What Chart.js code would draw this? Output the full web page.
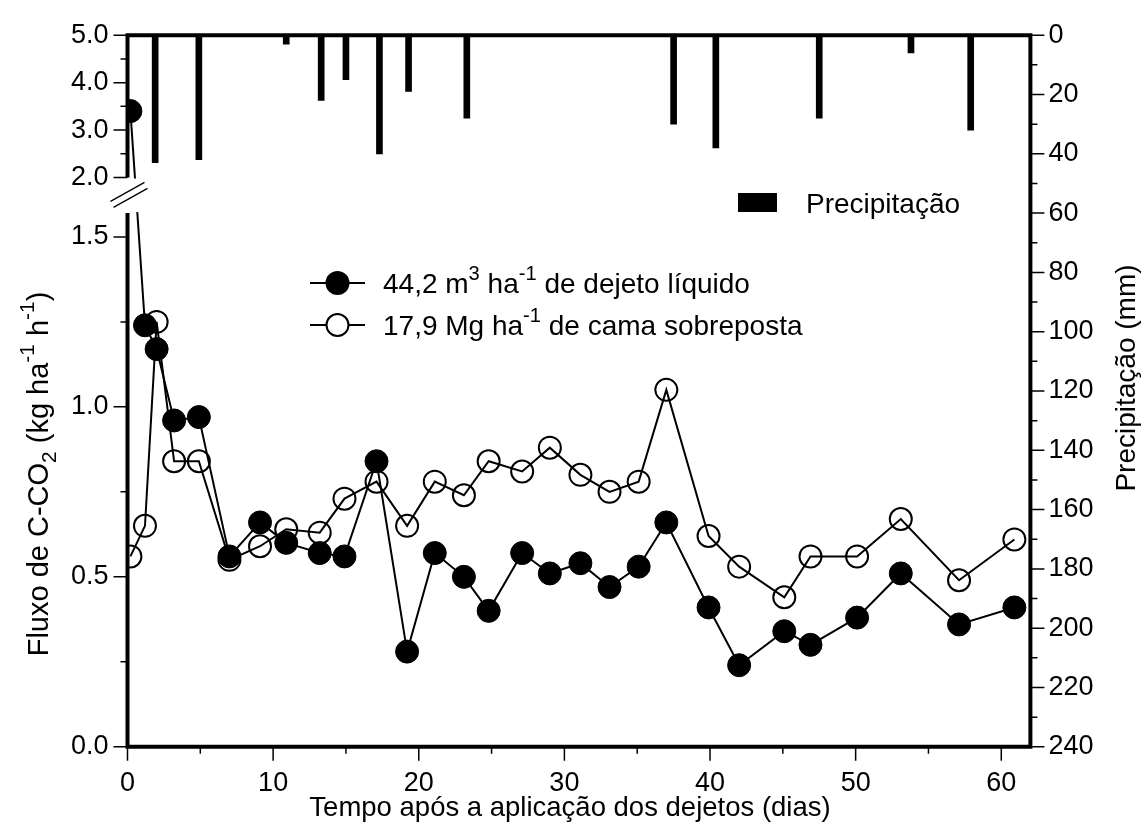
<!DOCTYPE html>
<html>
<head>
<meta charset="utf-8">
<script src="https://cdn.jsdelivr.net/npm/chart.js@4.4.1/dist/chart.umd.min.js"></script>
<style>
  html, body { margin: 0; padding: 0; background: #fff; }
  #wrap { position: relative; width: 1146px; height: 823px; }
</style>
</head>
<body>
<div id="wrap"><canvas id="fluxo"></canvas></div>
<script>
// dias após a aplicação (mesmas datas para os dois tratamentos)
const dias = [0.2, 1.2, 2.0, 3.2, 4.9, 7.0, 9.1, 10.9, 13.2, 14.9, 17.1, 19.2, 21.1, 23.1, 24.8,
              27.1, 29.0, 31.1, 33.1, 35.1, 37.0, 39.9, 42.0, 45.1, 46.9, 50.1, 53.1, 57.1, 60.9];
// fluxo de C-CO2 (kg ha-1 h-1)
const dejetoLiquido = [3.40, 1.24, 1.17, 0.96, 0.97, 0.56, 0.66, 0.60, 0.57, 0.56, 0.84, 0.28, 0.57, 0.50, 0.40,
                       0.57, 0.51, 0.54, 0.47, 0.53, 0.66, 0.41, 0.24, 0.34, 0.30, 0.38, 0.51, 0.36, 0.41];
const camaSobreposta = [0.56, 0.65, 1.25, 0.84, 0.84, 0.55, 0.59, 0.64, 0.63, 0.73, 0.78, 0.65, 0.78, 0.74, 0.84,
                        0.81, 0.88, 0.80, 0.75, 0.78, 1.05, 0.62, 0.53, 0.44, 0.56, 0.56, 0.67, 0.49, 0.61];
// chuva (mm)
const chuvaDias = [1.9, 4.9, 10.9, 13.3, 15.0, 17.3, 19.3, 23.3, 37.5, 40.4, 47.5, 53.8, 57.9];
const chuvaMm   = [43, 42, 3, 22, 15, 40, 19, 28, 30, 38, 28, 6, 32];

// ticks
const fluxoTicks = [0, 0.5, 1.0, 1.5, 2.0, 3.0, 4.0, 5.0];
const fluxoMenores = [0.25, 0.75, 1.25, 2.5, 3.5, 4.5];
const diasTicks = [0, 10, 20, 30, 40, 50, 60];
const diasMenores = [5, 15, 25, 35, 45, 55];
const chuvaTicks = [0, 20, 40, 60, 80, 100, 120, 140, 160, 180, 200, 220, 240];
const chuvaMenores = [10, 30, 50, 70, 90, 110, 130, 150, 170, 190, 210, 230];

// eixo y quebrado: 0–1.57 embaixo, 2–5 em cima
const BAIXO_MAX = 1.57, CIMA_MIN = 2.0, CIMA_MAX = 5.0;
const FRAC_CIMA = 0.20, FRAC_VAO = 0.05;

const FONTE = '"Liberation Sans", Arial, sans-serif';
const fonte = s => s + 'px ' + FONTE;

class EixoQuebrado extends Chart.LinearScale {
  limites() {
    const h = this.bottom - this.top;
    const yCima = this.top + h * FRAC_CIMA;
    const yBaixo = yCima + h * FRAC_VAO;
    return { yCima, yBaixo };
  }
  getPixelForValue(v) {
    const { yCima, yBaixo } = this.limites();
    if (v <= BAIXO_MAX) return this.bottom - (v / BAIXO_MAX) * (this.bottom - yBaixo);
    if (v < CIMA_MIN) return yBaixo - (v - BAIXO_MAX) / (CIMA_MIN - BAIXO_MAX) * (yBaixo - yCima);
    return yCima - (v - CIMA_MIN) / (CIMA_MAX - CIMA_MIN) * (yCima - this.top);
  }
  getValueForPixel(p) {
    const { yCima, yBaixo } = this.limites();
    if (p >= yBaixo) return (this.bottom - p) / (this.bottom - yBaixo) * BAIXO_MAX;
    if (p > yCima) return BAIXO_MAX + (yBaixo - p) / (yBaixo - yCima) * (CIMA_MIN - BAIXO_MAX);
    return CIMA_MIN + (yCima - p) / (yCima - this.top) * (CIMA_MAX - CIMA_MIN);
  }
}
EixoQuebrado.id = 'quebrado';
EixoQuebrado.defaults = Chart.LinearScale.defaults;
Chart.register(EixoQuebrado);

// texto com sobrescrito/subscrito
function textoRico(ctx, partes, x, y, tam, centro) {
  const peq = tam * 0.72;
  let total = 0;
  for (const [t, k] of partes) { ctx.font = fonte(k ? peq : tam); total += ctx.measureText(t).width; }
  let cx = centro ? x - total / 2 : x;
  ctx.textAlign = 'left';
  ctx.textBaseline = 'alphabetic';
  for (const [t, k] of partes) {
    ctx.font = fonte(k ? peq : tam);
    const dy = k === 'sup' ? -tam * 0.48 : k === 'sub' ? tam * 0.28 : 0;
    ctx.fillText(t, cx, y + dy);
    cx += ctx.measureText(t).width;
  }
}

const moldura = {
  id: 'moldura',
  afterDatasetsDraw(chart) {
    const { ctx, chartArea: a, scales } = chart;
    const y = scales.y, y2 = scales.y2, x = scales.x;
    const pCima = y.getPixelForValue(CIMA_MIN);
    const pBaixo = y.getPixelForValue(BAIXO_MAX);
    ctx.save();
    // vão entre os painéis
    ctx.fillStyle = '#fff';
    ctx.fillRect(a.left + 2, pCima + 1, a.right - a.left - 4, pBaixo - pCima - 2);

    ctx.strokeStyle = '#000';
    ctx.lineWidth = 4;
    ctx.lineJoin = 'miter';
    ctx.beginPath();
    ctx.moveTo(a.left, pCima);
    ctx.lineTo(a.left, a.top);
    ctx.lineTo(a.right, a.top);
    ctx.lineTo(a.right, a.bottom);
    ctx.lineTo(a.left, a.bottom);
    ctx.lineTo(a.left, pBaixo);
    ctx.stroke();

    ctx.lineWidth = 1.5;
    ctx.beginPath();
    for (const v of fluxoTicks) { const p = y.getPixelForValue(v); ctx.moveTo(a.left - 14, p); ctx.lineTo(a.left, p); }
    for (const v of fluxoMenores) { const p = y.getPixelForValue(v); ctx.moveTo(a.left - 7, p); ctx.lineTo(a.left, p); }
    for (const v of chuvaTicks) { const p = y2.getPixelForValue(v); ctx.moveTo(a.right, p); ctx.lineTo(a.right + 14, p); }
    for (const v of chuvaMenores) { const p = y2.getPixelForValue(v); ctx.moveTo(a.right, p); ctx.lineTo(a.right + 7, p); }
    for (const v of diasTicks) { const p = x.getPixelForValue(v); ctx.moveTo(p, a.bottom); ctx.lineTo(p, a.bottom + 14); }
    for (const v of diasMenores) { const p = x.getPixelForValue(v); ctx.moveTo(p, a.bottom); ctx.lineTo(p, a.bottom + 7); }
    ctx.stroke();

    // marcas de quebra
    const m = (pCima + pBaixo) / 2;
    ctx.lineWidth = 1.3;
    ctx.beginPath();
    ctx.moveTo(a.left - 17, m + 6); ctx.lineTo(a.left + 17, m - 13);
    ctx.moveTo(a.left - 14, m + 12); ctx.lineTo(a.left + 20, m - 7);
    ctx.stroke();
    ctx.restore();
  },
  afterDraw(chart) {
    const { ctx, chartArea: a } = chart;
    ctx.save();
    ctx.fillStyle = '#000';

    // títulos dos eixos
    textoRico(ctx, [['Tempo após a aplicação dos dejetos (dias)', '']], 570, 816, 27.5, true);

    ctx.save();
    ctx.translate(48, 474);
    ctx.rotate(-Math.PI / 2);
    textoRico(ctx, [['Fluxo de C-CO', ''], ['2', 'sub'], [' (kg ha', ''], ['-1', 'sup'], [' h', ''], ['-1', 'sup'], [')', '']], 0, 0, 29, true);
    ctx.restore();

    ctx.save();
    ctx.translate(1135, 378);
    ctx.rotate(-Math.PI / 2);
    textoRico(ctx, [['Precipitação (mm)', '']], 0, 0, 28, true);
    ctx.restore();

    // legenda
    ctx.fillRect(738, 193, 39, 19);
    textoRico(ctx, [['Precipitação', '']], 806, 213, 28, false);

    ctx.strokeStyle = '#000';
    ctx.lineWidth = 2;
    ctx.beginPath();
    ctx.moveTo(310, 283); ctx.lineTo(365, 283);
    ctx.moveTo(310, 325); ctx.lineTo(365, 325);
    ctx.stroke();
    ctx.beginPath(); ctx.arc(337.5, 283, 12, 0, Math.PI * 2); ctx.fill();
    ctx.beginPath(); ctx.arc(337.5, 325, 11, 0, Math.PI * 2); ctx.fillStyle = '#fff'; ctx.fill(); ctx.stroke();
    ctx.fillStyle = '#000';
    textoRico(ctx, [['44,2 m', ''], ['3', 'sup'], [' ha', ''], ['-1', 'sup'], [' de dejeto líquido', '']], 383, 293, 28, false);
    textoRico(ctx, [['17,9 Mg ha', ''], ['-1', 'sup'], [' de cama sobreposta', '']], 383, 335, 28, false);
    ctx.restore();
  }
};

const tickFonte = { family: FONTE, size: 27 };

new Chart(document.getElementById('fluxo'), {
  type: 'line',
  data: {
    datasets: [
      {
        label: '44,2 m3 ha-1 de dejeto líquido',
        data: dias.map((d, i) => ({ x: d, y: dejetoLiquido[i] })),
        yAxisID: 'y',
        borderColor: '#000',
        borderWidth: 2,
        pointRadius: 11.5,
        pointBackgroundColor: '#000',
        pointBorderColor: '#000',
        pointBorderWidth: 1,
        tension: 0,
        order: 0
      },
      {
        label: '17,9 Mg ha-1 de cama sobreposta',
        data: dias.map((d, i) => ({ x: d, y: camaSobreposta[i] })),
        yAxisID: 'y',
        borderColor: '#000',
        borderWidth: 2,
        pointRadius: 11,
        pointBackgroundColor: 'rgba(0,0,0,0)',
        pointBorderColor: '#000',
        pointBorderWidth: 2,
        tension: 0,
        order: 1
      },
      {
        type: 'bar',
        label: 'Precipitação',
        data: chuvaDias.map((d, i) => ({ x: d, y: chuvaMm[i] })),
        yAxisID: 'y2',
        backgroundColor: '#000',
        barThickness: 6,
        order: 2
      }
    ]
  },
  options: {
    responsive: true,
    maintainAspectRatio: false,
    animation: false,
    events: [],
    layout: { padding: { top: 30, left: 0, right: 0, bottom: 0 } },
    plugins: { legend: { display: false }, tooltip: { enabled: false } },
    scales: {
      x: {
        type: 'linear',
        min: 0,
        max: 62,
        offset: false,
        grid: { display: false, drawTicks: false },
        border: { display: false },
        afterBuildTicks: s => { s.ticks = diasTicks.map(v => ({ value: v })); },
        afterFit: s => { s.height = 76.2; },
        ticks: { font: tickFonte, color: '#000', padding: 21, maxRotation: 0, autoSkip: false }
      },
      y: {
        type: 'quebrado',
        position: 'left',
        min: 0,
        max: CIMA_MAX,
        grid: { display: false, drawTicks: false },
        border: { display: false },
        afterBuildTicks: s => { s.ticks = fluxoTicks.map(v => ({ value: v })); },
        afterFit: s => { s.width = 127.5; },
        ticks: { font: tickFonte, color: '#000', padding: 19, autoSkip: false, callback: v => v.toFixed(1) }
      },
      y2: {
        type: 'linear',
        position: 'right',
        reverse: true,
        min: 0,
        max: 240,
        grid: { display: false, drawTicks: false },
        border: { display: false },
        afterBuildTicks: s => { s.ticks = chuvaTicks.map(v => ({ value: v })); },
        afterFit: s => { s.width = 115.6; },
        ticks: { font: tickFonte, color: '#000', padding: 18, autoSkip: false }
      }
    }
  },
  plugins: [moldura]
});
</script>
</body>
</html>
